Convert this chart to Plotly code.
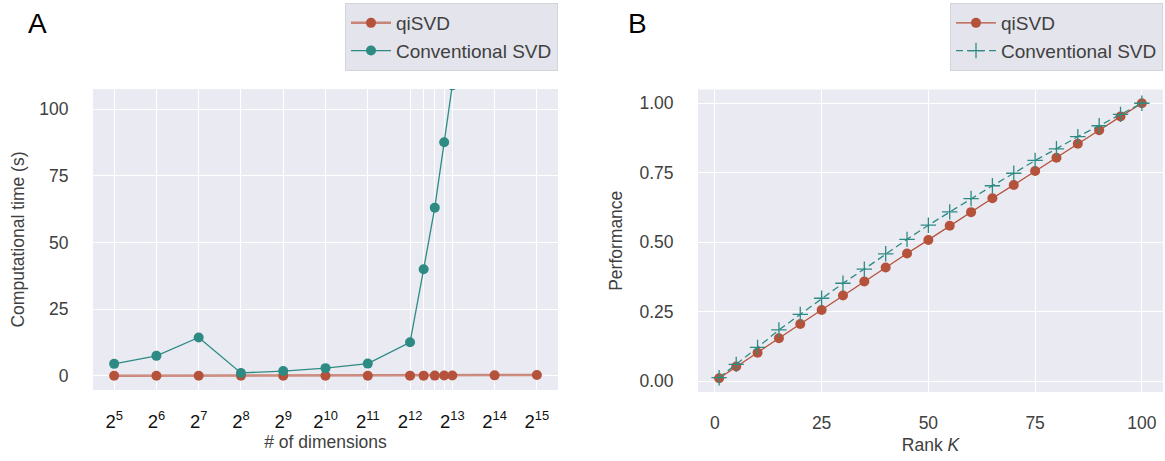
import math
import plotly.graph_objects as go

# ---------------- data ----------------
# Panel A: computational time vs matrix dimension
dims = [32, 64, 128, 256, 512, 1024, 2048, 4096, 5120, 6144, 7168, 8192, 16384, 32768]
dim_labels = ["2<sup>5</sup>", "2<sup>6</sup>", "2<sup>7</sup>", "2<sup>8</sup>", "2<sup>9</sup>",
              "2<sup>10</sup>", "2<sup>11</sup>", "2<sup>12</sup>", "", "", "",
              "2<sup>13</sup>", "2<sup>14</sup>", "2<sup>15</sup>"]
time_qisvd = [0.02, 0.02, 0.03, 0.03, 0.04, 0.05, 0.06, 0.08, 0.09, 0.10, 0.11, 0.12, 0.2, 0.3]
dims_conv = [32, 64, 128, 256, 512, 1024, 2048, 4096, 5120, 6144, 7168, 8192]
time_conv = [4.5, 7.5, 14.4, 1.1, 1.8, 2.9, 4.6, 12.6, 40.0, 63.1, 87.6, 109.0]

# Panel B: performance vs rank K
rank_k = [1, 5, 10, 15, 20, 25, 30, 35, 40, 45, 50, 55, 60, 65, 70, 75, 80, 85, 90, 95, 100]
perf_qisvd = [0.010, 0.052, 0.102, 0.154, 0.205, 0.256, 0.308, 0.358, 0.409, 0.459, 0.508,
              0.559, 0.608, 0.658, 0.706, 0.756, 0.804, 0.854, 0.903, 0.952, 1.000]
perf_conv = [0.012, 0.060, 0.121, 0.184, 0.240, 0.298, 0.352, 0.403, 0.458, 0.510, 0.561,
             0.609, 0.657, 0.703, 0.748, 0.794, 0.836, 0.880, 0.919, 0.960, 1.000]

# ---------------- style ----------------
RED = "#B5523B"
TEAL = "#2E8B84"
BG = "#EAEAF2"
FONT = "Liberation Sans, Arial, sans-serif"
TXT = "#404040"
W, H = 1165, 461
TICK_SIZE = 17.5
TITLE_SIZE = 17.5
LEG_SIZE = 19

fig = go.Figure()

# Panel A
fig.add_trace(go.Scatter(
    x=dims, y=time_qisvd, mode="lines+markers", name="qiSVD",
    line=dict(color="rgba(181,82,59,0.65)", width=2.5),
    marker=dict(color=RED, size=10, symbol="circle"),
    xaxis="x", yaxis="y", legend="legend"))
fig.add_trace(go.Scatter(
    x=dims_conv, y=time_conv, mode="lines+markers", name="Conventional SVD",
    line=dict(color=TEAL, width=1.3),
    marker=dict(color=TEAL, size=10, symbol="circle"),
    xaxis="x", yaxis="y", legend="legend"))

# Panel B
fig.add_trace(go.Scatter(
    x=rank_k, y=perf_qisvd, mode="lines+markers", name="qiSVD",
    line=dict(color=RED, width=1.3),
    marker=dict(color=RED, size=10, symbol="circle"),
    xaxis="x2", yaxis="y2", legend="legend2"))
fig.add_trace(go.Scatter(
    x=rank_k, y=perf_conv, mode="lines+markers", name="Conventional SVD",
    line=dict(color=TEAL, width=1.3, dash="7px,4px"),
    marker=dict(color=TEAL, size=11, symbol="cross-thin", line=dict(color=TEAL, width=1.3)),
    xaxis="x2", yaxis="y2", legend="legend2"))


def fx(px):
    return px / W


def fy(py):
    return 1 - py / H


def axis_style(font_color=TXT, font_size=TICK_SIZE):
    return dict(
        showgrid=True, gridcolor="white", gridwidth=1.3, zeroline=False,
        showline=False, ticks="outside", tickcolor="rgba(0,0,0,0)",
        tickfont=dict(family=FONT, size=font_size, color=font_color),
    )


def title_font():
    return dict(family=FONT, size=TITLE_SIZE, color=TXT)


fig.update_layout(
    width=W, height=H,
    margin=dict(l=0, r=0, t=0, b=0),
    paper_bgcolor="white", plot_bgcolor=BG,
    font=dict(family=FONT, size=TICK_SIZE, color=TXT),
    showlegend=True,
    xaxis=dict(
        **axis_style("#111111", 18.5), type="log", domain=[fx(93), fx(558)],
        range=[4.5 * math.log10(2), 15.5 * math.log10(2)],
        tickmode="array", tickvals=dims, ticktext=dim_labels, ticklen=15,
        title=dict(text="# of dimensions", font=title_font(), standoff=4),
        anchor="y",
    ),
    yaxis=dict(
        **axis_style(), domain=[fy(390), fy(89)],
        range=[-5.3, 107.6], tickmode="array", tickvals=[0, 25, 50, 75, 100], ticklen=20,
        title=dict(text="Computational time (s)", font=title_font(), standoff=10),
        anchor="x",
    ),
    xaxis2=dict(
        **axis_style(), domain=[fx(698), fx(1163)],
        range=[-3.95, 104.95], tickmode="array", tickvals=[0, 25, 50, 75, 100], ticklen=15,
        title=dict(text="Rank <i>K</i>", font=title_font(), standoff=6),
        anchor="y2",
    ),
    yaxis2=dict(
        **axis_style(), domain=[fy(392), fy(89.5)],
        range=[-0.0395, 1.0495], tickmode="array", tickvals=[0, 0.25, 0.5, 0.75, 1.0],
        ticktext=["0.00", "0.25", "0.50", "0.75", "1.00"], ticklen=20,
        title=dict(text="Performance", font=title_font(), standoff=12),
        anchor="x2",
    ),
    legend=dict(
        x=fx(558), y=fy(3), xanchor="right", yanchor="top",
        bgcolor="#E4E4EC", bordercolor="#d4d4dc", borderwidth=1,
        font=dict(family=FONT, size=LEG_SIZE, color=TXT), itemwidth=40,
    ),
    legend2=dict(
        x=fx(1163), y=fy(3), xanchor="right", yanchor="top",
        bgcolor="#E4E4EC", bordercolor="#d4d4dc", borderwidth=1,
        font=dict(family=FONT, size=LEG_SIZE, color=TXT), itemwidth=40,
    ),
    annotations=[
        dict(text="A", x=fx(26), y=fy(6), xref="paper", yref="paper", xanchor="left", yanchor="top",
             showarrow=False, font=dict(family=FONT, size=28, color="black")),
        dict(text="B", x=fx(626), y=fy(6), xref="paper", yref="paper", xanchor="left", yanchor="top",
             showarrow=False, font=dict(family=FONT, size=28, color="black")),
    ],
)

fig.write_html("out.html")
